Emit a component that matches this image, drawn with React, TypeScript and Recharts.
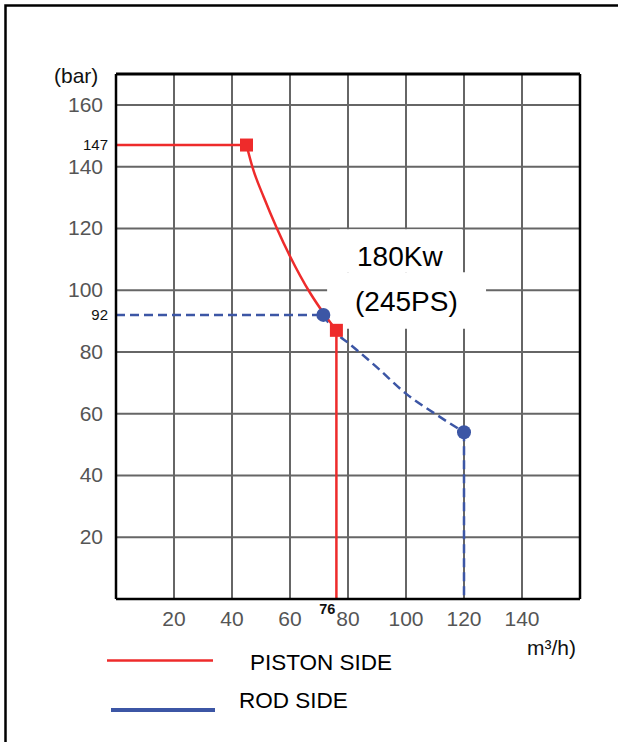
import React from "react";
import {
  ComposedChart,
  Line,
  Scatter,
  XAxis,
  YAxis,
  CartesianGrid,
  ReferenceLine,
  ReferenceArea,
} from "recharts";

// axis ticks and grid values
const xTicks = [20, 40, 60, 76, 80, 100, 120, 140];
const yTicks = [20, 40, 60, 80, 92, 100, 120, 140, 147, 160];
const gridX = [20, 40, 60, 80, 100, 120, 140, 160];
const gridY = [20, 40, 60, 80, 100, 120, 140, 160];
const markedX = [76];
const markedY = [92, 147];

// piston side (red)
const pistonFlat = [
  { x: 0, y: 147 },
  { x: 45, y: 147 },
];
const pistonCurve = [
  { x: 45, y: 147 },
  { x: 47, y: 140 },
  { x: 51, y: 130 },
  { x: 55.5, y: 120 },
  { x: 60, y: 111 },
  { x: 67, y: 99 },
  { x: 72, y: 92 },
  { x: 76, y: 87 },
];
const pistonDrop = [
  { x: 76, y: 87 },
  { x: 76, y: 0 },
];
const pistonPoints = [
  { x: 45, y: 147 },
  { x: 76, y: 87 },
];

// rod side (blue)
const rodFlat = [
  { x: 0, y: 92 },
  { x: 71.5, y: 92 },
];
const rodCurve = [
  { x: 71.5, y: 92 },
  { x: 76, y: 86 },
  { x: 80, y: 83 },
  { x: 90, y: 75 },
  { x: 100, y: 66.5 },
  { x: 110, y: 60 },
  { x: 120, y: 54 },
];
const rodDrop = [
  { x: 120, y: 54 },
  { x: 120, y: 0 },
];
const rodPoints = [
  { x: 71.5, y: 92 },
  { x: 120, y: 54 },
];

const RED = "#ee2b2b";
const BLUE = "#3c56a5";
const FONT = "'Liberation Sans', Arial, sans-serif";

const XTick = ({ x, y, payload }: any) => {
  const v = payload.value;
  if (markedX.includes(v)) {
    return (
      <text x={x - 1} y={y + 15} textAnchor="end" fontSize={14.5} fontWeight="bold" fill="#111" fontFamily={FONT}>
        {v}
      </text>
    );
  }
  return (
    <text x={x} y={y + 27} textAnchor="middle" fontSize={21} fill="#555" fontFamily={FONT}>
      {v}
    </text>
  );
};

const YTick = ({ x, y, payload }: any) => {
  const v = payload.value;
  if (markedY.includes(v)) {
    return (
      <text x={x - 8} y={y + 5} textAnchor="end" fontSize={15} fill="#111" fontFamily={FONT}>
        {v}
      </text>
    );
  }
  return (
    <text x={x - 13} y={y + 7} textAnchor="end" fontSize={21} fill="#555" fontFamily={FONT}>
      {v}
    </text>
  );
};

const Square = ({ cx, cy }: any) => (
  <rect x={cx - 6.5} y={cy - 6.5} width={13} height={13} fill={RED} />
);
const Dot = ({ cx, cy }: any) => <circle cx={cx} cy={cy} r={7} fill={BLUE} />;

export default function App() {
  return (
    <div
      style={{
        position: "absolute",
        left: 0,
        top: 0,
        width: 618,
        height: 742,
        overflow: "hidden",
        background: "#fff",
      }}
    >
      <div style={{ position: "absolute", left: 0, top: 0 }}>
        <ComposedChart
          width={618}
          height={742}
          margin={{ top: 74, right: 38, bottom: 113, left: 56 }}
        >
          <CartesianGrid
            stroke="#666"
            strokeWidth={2}
            horizontalValues={gridY}
            verticalValues={gridX}
          />
          <XAxis
            dataKey="x"
            type="number"
            domain={[0, 160]}
            ticks={xTicks}
            interval={0}
            tick={<XTick />}
            tickLine={false}
            tickSize={0}
            tickMargin={0}
            height={30}
            axisLine={{ stroke: "#000", strokeWidth: 2.5 }}
            allowDataOverflow
          />
          <YAxis
            dataKey="y"
            type="number"
            domain={[0, 170]}
            ticks={yTicks}
            interval={0}
            tick={<YTick />}
            tickLine={false}
            tickSize={0}
            tickMargin={0}
            width={60}
            axisLine={{ stroke: "#000", strokeWidth: 2.5 }}
            allowDataOverflow
          />
          <ReferenceLine y={170} stroke="#000" strokeWidth={3} />
          <ReferenceLine x={160} stroke="#000" strokeWidth={2.5} />
          <ReferenceArea x1={73.8} x2={119.3} y1={105.7} y2={119.7} fill="#fff" fillOpacity={1} stroke="none" />
          <ReferenceArea x1={72.8} x2={127.6} y1={87.5} y2={105.8} fill="#fff" fillOpacity={1} stroke="none" />

          <Line data={rodFlat} dataKey="y" type="linear" stroke={BLUE} strokeWidth={2.5} strokeDasharray="9 5" dot={false} isAnimationActive={false} />
          <Line data={rodCurve} dataKey="y" type="monotone" stroke={BLUE} strokeWidth={2.5} strokeDasharray="9 5" dot={false} isAnimationActive={false} />
          <Line data={rodDrop} dataKey="y" type="linear" stroke={BLUE} strokeWidth={2.5} strokeDasharray="9 5" dot={false} isAnimationActive={false} />

          <Line data={pistonFlat} dataKey="y" type="linear" stroke={RED} strokeWidth={2.5} dot={false} isAnimationActive={false} />
          <Line data={pistonCurve} dataKey="y" type="monotone" stroke={RED} strokeWidth={2.5} dot={false} isAnimationActive={false} />
          <Line data={pistonDrop} dataKey="y" type="linear" stroke={RED} strokeWidth={2.5} dot={false} isAnimationActive={false} />

          <Scatter data={rodPoints} dataKey="y" shape={<Dot />} isAnimationActive={false} />
          <Scatter data={pistonPoints} dataKey="y" shape={<Square />} isAnimationActive={false} />
        </ComposedChart>
      </div>
      <svg
        width={618}
        height={742}
        style={{ position: "absolute", left: 0, top: 0, pointerEvents: "none" }}
        fontFamily={FONT}
      >
        <path d="M 5.5 760 L 5.5 5.5 L 618 5.5" fill="none" stroke="#000" strokeWidth={2.5} />
        <text x={54} y={83} fontSize={21} fill="#111">(bar)</text>
        <text x={527} y={655} fontSize={21} fill="#111">m³/h)</text>
        <text x={357} y={266} fontSize={28} fill="#000">180Kw</text>
        <text x={355} y={311} fontSize={28} fill="#000">(245PS)</text>

        <line x1={107} y1={660.5} x2={213} y2={660.5} stroke={RED} strokeWidth={2.5} />
        <text x={250} y={670} fontSize={22.5} fill="#000">PISTON SIDE</text>
        <line x1={111} y1={710} x2={215} y2={710} stroke={BLUE} strokeWidth={4} />
        <text x={239} y={708} fontSize={22.5} fill="#000">ROD SIDE</text>
      </svg>
    </div>
  );
}
